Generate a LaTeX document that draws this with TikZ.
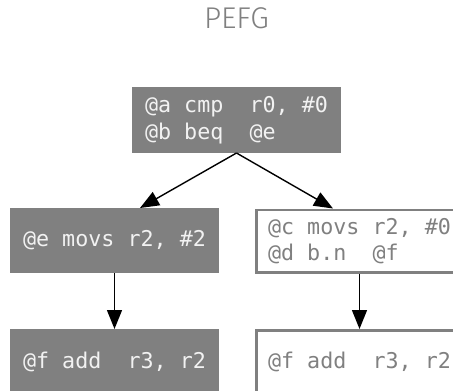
\documentclass[tikz,border=0pt]{standalone}
\usepackage{fontspec}
\setmonofont{DejaVu Sans Mono}
\newfontfamily\titlefont{Fira Sans Light}
\usetikzlibrary{arrows.meta}
\definecolor{blockgray}{HTML}{808080}
\definecolor{blocktext}{HTML}{F2F2F2}
\begin{document}
\begin{tikzpicture}[x=1pt,y=-1pt,
  code/.style={font=\ttfamily\fontsize{21.7}{26.5}\selectfont, align=left,
    line width=2.5pt, minimum width=206.5pt, inner xsep=11pt},
  solidblock/.style={code, fill=blockgray, draw=blockgray, text=blocktext},
  hollowblock/.style={code, fill=white, draw=blockgray, text=blockgray},
  tall/.style={minimum height=63.5pt},
  edge/.style={line width=1.4pt, -{Triangle[length=19pt,width=15pt]}}]
\useasboundingbox (0,0) rectangle (453,391);
\clip (0,0) rectangle (453,391);

\node[font=\titlefont\fontsize{30}{30}\selectfont, text=blockgray] (title) at (236.5,18.5) {PEFG};

\node[solidblock, tall] (a) at (236.5,120) {@a cmp\ \ r0, \#0\\@b beq\ \ @e};
\node[solidblock, minimum height=62.5pt] (e) at (114.5,240.5) {@e movs r2, \#2};
\node[hollowblock, minimum height=62.5pt] (c) at (359.5,241) {@c movs r2, \#0\\@d b.n\ \ @f};
\node[solidblock, minimum height=62.5pt] (f1) at (114.5,361.5) {@f add\ \ r3, r2};
\node[hollowblock, minimum height=62.5pt] (f2) at (359.5,361.5) {@f add\ \ r3, r2};

\draw[edge] (a.south) -- ([xshift=25.5pt]e.north);
\draw[edge] (a.south) -- ([xshift=-26.5pt]c.north);
\draw[edge] (e.south) -- (f1.north);
\draw[edge] (c.south) -- (f2.north);
\end{tikzpicture}
\end{document}
